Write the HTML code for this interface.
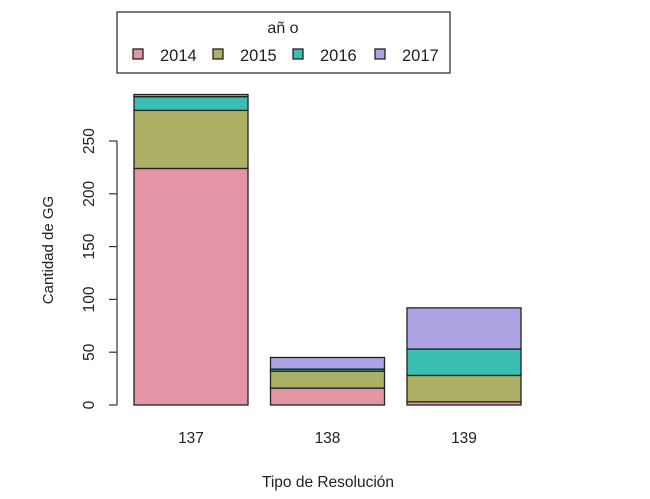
<!DOCTYPE html>
<html><head><meta charset="utf-8"><style>
body{margin:0;background:#fff;}
svg{display:block;font-family:"Liberation Sans",Arial,sans-serif;}
</style></head><body>
<svg id="chart" width="650" height="499" viewBox="0 0 650 499"></svg>
<script>
const categories = ["137","138","139"];
const seriesNames = ["2014","2015","2016","2017"];
const s2014 = [224,16,3];
const s2015 = [55,16,25];
const s2016 = [13,2,25];
const s2017 = [2,11,39];
const yTicks = [0,50,100,150,200,250];
const colors = ["#E495A5","#ABB065","#39BEB1","#ACA4E2"];
const series = [s2014,s2015,s2016,s2017];

const NS="http://www.w3.org/2000/svg";
const svg=document.getElementById('chart');
function el(t,a,p){const e=document.createElementNS(NS,t);for(const k in a)e.setAttribute(k,a[k]);(p||svg).appendChild(e);return e;}
const y0=405, pxPer=1.056;
function yScale(v){return y0 - v*pxPer;}
const barW=114, firstX=134, step=136.5;
function xScale(i){return firstX + i*step;}

const ax=el('g',{});


el('line',{x1:117,x2:117,y1:yScale(0),y2:yScale(250),stroke:'#333','stroke-width':1.2},ax);
yTicks.forEach(t=>{
  const y=yScale(t);
  el('line',{x1:109,x2:117,y1:y,y2:y,stroke:'#333','stroke-width':1.2},ax);
  const tx=el('text',{x:94,y:y,'font-size':15.5,'text-anchor':'middle',fill:'#222',transform:`rotate(-90 94 ${y})`},ax);
  
  
  tx.textContent=t;
});
const yt=el('text',{x:53,y:250,'font-size':15,'text-anchor':'middle',fill:'#222',transform:'rotate(-90 53 250)'});


yt.textContent='Cantidad de GG';

categories.forEach((c,i)=>{
  let cum=0;
  series.forEach((s,j)=>{
    const v=s[i];
    const r=el('rect',{x:xScale(i),y:yScale(cum+v),width:barW,height:v*pxPer,fill:colors[j],stroke:'#222','stroke-width':1.3});
    
    
    cum+=v;
  });
  const l=el('text',{x:xScale(i)+barW/2,y:443,'font-size':15.5,'text-anchor':'middle',fill:'#222'});
  
  
  l.textContent=c;
});
const xt=el('text',{x:328,y:487,'font-size':15.5,'text-anchor':'middle',fill:'#222'});


xt.textContent='Tipo de Resolución';

const lg=el('g',{});


el('rect',{x:117,y:12,width:333,height:61,fill:'#fff',stroke:'#222','stroke-width':1.2},lg);
const lt=el('text',{x:283,y:33,'font-size':16,'text-anchor':'middle',fill:'#222'},lg);


lt.textContent='añ o';
const lx=[133,213,293,375];
seriesNames.forEach((n,j)=>{
  const g=el('g',{},lg);
  
  
  el('rect',{x:lx[j],y:49,width:10,height:10,fill:colors[j],stroke:'#222','stroke-width':1.3},g);
  const t=el('text',{x:lx[j]+27,y:61,'font-size':16.5,fill:'#222'},g);
  t.textContent=n;
});
</script>
</body></html>
